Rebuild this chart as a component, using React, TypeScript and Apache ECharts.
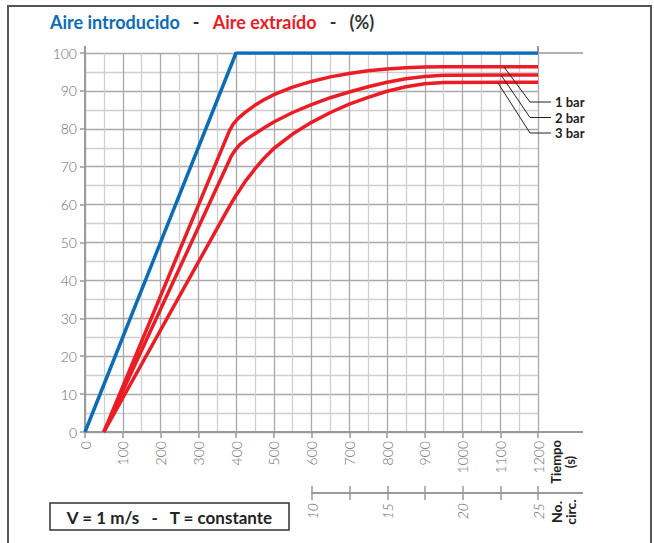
import React, { useEffect, useRef } from "react";
import * as echarts from "echarts";

const introducido: [number, number][] = [[0, 0], [400, 100], [1200, 100]];
const bar1: [number, number][] = [[50, 0], [383, 79.6], [393, 81.3], [405, 82.7], [425, 84.4], [450, 86.2], [475, 87.7], [500, 89.0], [550, 91.0], [600, 92.5], [650, 93.7], [700, 94.6], [750, 95.3], [800, 95.8], [850, 96.1], [900, 96.3], [950, 96.4], [1200, 96.4]];
const bar2: [number, number][] = [[50, 0], [388, 72.9], [398, 74.4], [410, 75.8], [430, 77.4], [450, 78.7], [475, 80.3], [500, 81.8], [550, 84.3], [600, 86.4], [650, 88.2], [700, 89.7], [750, 91.1], [800, 92.3], [850, 93.2], [900, 93.8], [950, 94.1], [1200, 94.2]];
const bar3: [number, number][] = [[50, 0], [370, 57.3], [385, 59.9], [400, 62.4], [425, 66.2], [450, 69.4], [475, 72.3], [500, 74.8], [550, 78.6], [600, 81.7], [650, 84.3], [700, 86.5], [750, 88.3], [800, 89.9], [850, 91.1], [900, 91.9], [950, 92.2], [1200, 92.3]];
const barLabels = ["1 bar", "2 bar", "3 bar"];
const circMin = 10;
const circMax = 25;

const BLUE = "#0b6db7";
const RED = "#ec1c24";
const GRID_MAJ = "#a9a9ad";
const GRID_MIN = "#cfcfd2";
const AXIS = "#9a9a9e";
const LABEL = "#6a6a6a";
const FONT = "Lato, 'Open Sans', sans-serif";

export default function App() {
  const ref = useRef<HTMLDivElement>(null);
  useEffect(() => {
    if (!ref.current) return;
    const chart = echarts.init(ref.current, null, { renderer: "svg" });
    const leaders = barLabels.map((t, i) => {
      const y0 = 67 + i * 8;
      const y1 = 102 + i * 15.5;
      const x0 = 504 - i * 3;
      return [
        { type: "polyline", shape: { points: [[x0, y0], [530, y1], [551, y1]] }, style: { stroke: "#222", lineWidth: 1, fill: null }, z: 10 },
        { type: "text", x: 555, y: y1, style: { text: t, font: `bold 13px ${FONT}`, fill: "#222", textVerticalAlign: "middle" }, z: 10 },
      ];
    }).flat();
    const redLine = (name: string, data: [number, number][]) => ({
      type: "line", name, data, symbol: "none",
      lineStyle: { color: RED, width: 3.5, join: "round" }, z: 3,
    });
    chart.setOption({
      animation: false,
      backgroundColor: "#fff",
      grid: [
        { left: 85, right: 116, top: 53, bottom: 111 },
        { left: 312, right: 116, top: 493, height: 0 },
      ],
      xAxis: [
        {
          type: "value", gridIndex: 0, min: 0, max: 1200, interval: 100,
          axisLine: { show: true, lineStyle: { color: AXIS, width: 2 } },
          axisTick: { show: true, length: 6, lineStyle: { color: AXIS, width: 1.5 } },
          axisLabel: { rotate: 90, margin: 9, color: LABEL, fontSize: 14, fontFamily: FONT, fontWeight: 300,
            formatter: (v: number) => String(v) },
          splitLine: { show: true, lineStyle: { color: GRID_MAJ, width: 1.3 } },
          minorTick: { show: false, splitNumber: 2 },
          minorSplitLine: { show: true, lineStyle: { color: GRID_MIN, width: 1.3 } },
        },
        {
          type: "value", gridIndex: 1, min: circMin, max: circMax, interval: 2.5, position: "bottom",
          axisLine: { show: true, lineStyle: { color: AXIS, width: 2 } },
          axisTick: { show: true, length: 7, lineStyle: { color: AXIS, width: 1.5 } },
          axisLabel: { rotate: 90, margin: 10, color: LABEL, fontSize: 14, fontFamily: FONT, fontStyle: "italic", fontWeight: 300,
            formatter: (v: number) => (v % 5 === 0 ? String(v) : "") },
          splitLine: { show: false },
        },
        {
          type: "value", gridIndex: 1, min: circMin, max: circMax, interval: 2.5, position: "top",
          axisLine: { show: false },
          axisTick: { show: true, length: 7, lineStyle: { color: AXIS, width: 1.5 } },
          axisLabel: { show: false },
          splitLine: { show: false },
        },
      ],
      yAxis: [
        {
          type: "value", gridIndex: 0, min: 0, max: 100, interval: 10,
          axisLine: { show: true, lineStyle: { color: AXIS, width: 2 } },
          axisTick: { show: true, length: 5, lineStyle: { color: AXIS, width: 1.5 } },
          axisLabel: { margin: 8, color: LABEL, fontSize: 14, fontFamily: FONT, fontWeight: 300 },
          splitLine: { show: true, lineStyle: { color: GRID_MAJ, width: 1.3 } },
          minorTick: { show: false, splitNumber: 2 },
          minorSplitLine: { show: true, lineStyle: { color: GRID_MIN, width: 1.3 } },
        },
        { type: "value", gridIndex: 1, show: false, min: 0, max: 1 },
      ],
      series: [
        redLine("3 bar", bar3),
        redLine("2 bar", bar2),
        redLine("1 bar", bar1),
        { type: "line", name: "Aire introducido", data: introducido, symbol: "none", lineStyle: { color: BLUE, width: 3.5 }, z: 4 },
      ],
      graphic: [
        { type: "rect", shape: { x: 8, y: 6, width: 643, height: 560 }, style: { fill: null, stroke: "#555", lineWidth: 2 }, z: -1 },
        { type: "line", shape: { x1: 85, y1: 46, x2: 85, y2: 53 }, style: { stroke: AXIS, lineWidth: 2 } },
        { type: "line", shape: { x1: 538, y1: 46, x2: 538, y2: 53 }, style: { stroke: AXIS, lineWidth: 2 } },
        { type: "line", shape: { x1: 538, y1: 53, x2: 583, y2: 53 }, style: { stroke: AXIS, lineWidth: 1.5 } },
        { type: "line", shape: { x1: 538, y1: 432, x2: 583, y2: 432 }, style: { stroke: AXIS, lineWidth: 2 } },
        { type: "line", shape: { x1: 538, y1: 493, x2: 583, y2: 493 }, style: { stroke: AXIS, lineWidth: 2 } },
        {
          type: "text", x: 50, y: 22,
          style: {
            text: "{b|Aire introducido}{k|   -   }{r|Aire extraído}{k|   -   (%)}",
            textVerticalAlign: "middle",
            rich: {
              b: { fill: BLUE, font: `bold 18px ${FONT}` },
              r: { fill: RED, font: `bold 18px ${FONT}` },
              k: { fill: "#333", font: `bold 18px ${FONT}` },
            },
          },
        },
        {
          type: "text", x: 563, y: 462, rotation: Math.PI / 2,
          style: { text: "Tiempo\n(s)", font: `bold 13px ${FONT}`, fill: "#222", textAlign: "center", textVerticalAlign: "middle", lineHeight: 14 },
        },
        {
          type: "text", x: 563, y: 512, rotation: Math.PI / 2,
          style: { text: "No.\ncirc.", font: `bold 14px ${FONT}`, fill: "#222", textAlign: "center", textVerticalAlign: "middle", lineHeight: 14 },
        },
        { type: "rect", shape: { x: 50, y: 503, width: 239, height: 27 }, style: { fill: "#fff", stroke: "#333", lineWidth: 1.5 } },
        {
          type: "text", x: 169.5, y: 517,
          style: { text: "V = 1 m/s   -   T = constante", font: `bold 17px ${FONT}`, fill: "#222", textAlign: "center", textVerticalAlign: "middle" },
        },
        ...leaders,
      ],
    });
    return () => chart.dispose();
  }, []);
  return <div ref={ref} style={{ width: 654, height: 543, position: "absolute", left: 0, top: 0 }} />;
}
